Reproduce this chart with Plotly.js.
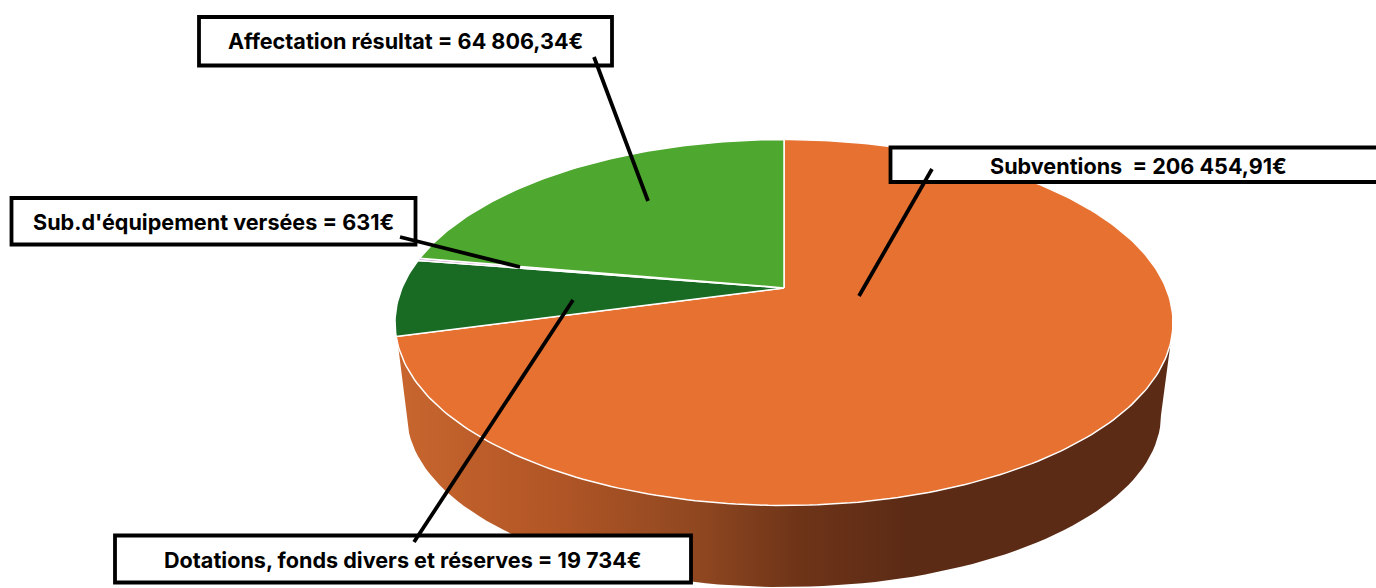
<!DOCTYPE html>
<html><head><meta charset="utf-8">
<script src="https://cdn.plot.ly/plotly-3.0.1.min.js"></script>
<style>html,body{margin:0;padding:0;background:#fff;overflow:hidden}</style></head>
<body><div id="chart" style="width:1376px;height:588px"></div>
<script>
// Data, clockwise from 12 o'clock
const categories = ["Subventions", "Dotations, fonds divers et réserves", "Sub.d'équipement versées", "Affectation résultat"];
const values = [206454.91, 19734, 631, 64806.34];
const labels = ["Subventions  = 206 454,91€", "Dotations, fonds divers et réserves = 19 734€", "Sub.d'équipement versées = 631€", "Affectation résultat = 64 806,34€"];
const sliceColors = ["#E67131", "#196B24", "#C9A0CC", "#4EA72E"];

// Projection of the tilted disc
const cx = 784, cy = 322.5, rx = 389, ry = 183, tilt = 0.189;
function project(deg) {
  const t = deg * Math.PI / 180, u = Math.sin(t), v = Math.cos(t), d = 1 + tilt * v;
  return [cx + rx * u * Math.sqrt(1 - tilt * tilt) / d, cy - ry * (v + tilt) / d];
}
const total = values.reduce((a, b) => a + b, 0);
const apex = [cx, cy - ry * tilt];

const traces = [];
// Side wall
const wall = {x: [], y: [], type: 'scatter', mode: 'lines', fill: 'toself', hoverinfo: 'skip', showlegend: false,
  line: {width: 0},
  fillgradient: {type: 'horizontal', start: 397, stop: 1171,
    colorscale: [[0, '#C8662E'], [0.2, '#B25626'], [0.39, '#8F4720'], [0.52, '#6E3418'], [0.66, '#5C2B15'], [1, '#5C2B15']]}};
wall.x.push(397); wall.y.push(337);
for (let a = 180; a >= 0; a -= 2) {
  const t = a * Math.PI / 180;
  wall.x.push(784 + 377 * Math.cos(t)); wall.y.push(415 + 172 * Math.sin(t));
}
wall.x.push(1171); wall.y.push(340);
traces.push(wall);

// Slices
let acc = 0;
values.forEach((v, i) => {
  const a0 = acc / total * 360, a1 = (acc + v) / total * 360;
  acc += v;
  const xs = [apex[0]], ys = [apex[1]];
  const steps = Math.max(2, Math.ceil(a1 - a0));
  for (let k = 0; k <= steps; k++) {
    const p = project(a0 + (a1 - a0) * k / steps);
    xs.push(p[0]); ys.push(p[1]);
  }
  xs.push(apex[0]); ys.push(apex[1]);
  traces.push({x: xs, y: ys, name: categories[i], type: 'scatter', mode: 'lines', fill: 'toself',
    fillcolor: sliceColors[i], line: {color: '#FFFFFF', width: 1.5}, hoverinfo: 'name', showlegend: false});
});

// Callouts: label box and leader line
const boxes = [
  [890.5, 147.5, 1390, 182], [115, 535.5, 691, 582.5], [11.5, 198, 415.5, 244.5], [199, 17, 612, 65.5]
];
const leaders = [
  [932, 169, 859, 296], [573, 300, 414, 542], [400, 237, 520, 267], [594, 57, 648, 201]
];
const textAt = [[1138, 166], [403, 560], [213.5, 222], [405, 41]];
const shapes = [];
boxes.forEach(b => shapes.push({type: 'rect', xref: 'x', yref: 'y', x0: b[0], y0: b[1], x1: b[2], y1: b[3],
  fillcolor: '#FFFFFF', line: {color: '#000000', width: 3.8}, layer: 'above'}));
leaders.forEach(l => shapes.push({type: 'line', xref: 'x', yref: 'y', x0: l[0], y0: l[1], x1: l[2], y1: l[3],
  line: {color: '#000000', width: 3.8}, layer: 'above'}));
const annotations = labels.map((t, i) => ({text: t, xref: 'x', yref: 'y', x: textAt[i][0], y: textAt[i][1],
  showarrow: false, xanchor: 'center', yanchor: 'middle',
  font: {family: 'Inter, sans-serif', size: 21.6, color: '#000000', weight: 700}}));

Plotly.newPlot('chart', traces, {
  width: 1376, height: 588, margin: {l: 0, r: 0, t: 0, b: 0},
  paper_bgcolor: '#FFFFFF', plot_bgcolor: '#FFFFFF', showlegend: false,
  xaxis: {range: [0, 1376], visible: false, fixedrange: true},
  yaxis: {range: [588, 0], visible: false, fixedrange: true},
  shapes, annotations
}, {displayModeBar: false, staticPlot: true});
</script></body></html>
